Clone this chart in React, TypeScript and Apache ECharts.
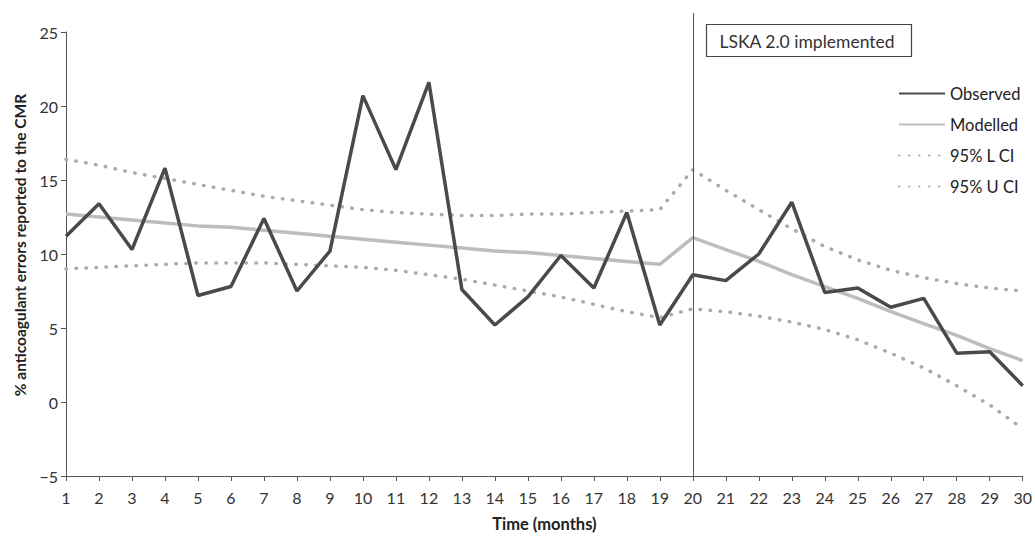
import React, { useEffect, useRef } from "react";
import * as echarts from "echarts";

const months = Array.from({ length: 30 }, (_, i) => i + 1);
const observed = [11.2, 13.4, 10.3, 15.8, 7.2, 7.8, 12.4, 7.5, 10.2, 20.7, 15.7, 21.6, 7.6, 5.2, 7.1, 9.9, 7.7, 12.8, 5.2, 8.6, 8.2, 10.0, 13.5, 7.4, 7.7, 6.4, 7.0, 3.3, 3.4, 1.1];
const modelled = [12.7, 12.5, 12.3, 12.1, 11.9, 11.8, 11.6, 11.4, 11.2, 11.0, 10.8, 10.6, 10.4, 10.2, 10.1, 9.9, 9.7, 9.5, 9.3, 11.1, 10.3, 9.5, 8.6, 7.8, 7.0, 6.1, 5.3, 4.5, 3.6, 2.8];
const lowerCI = [9.0, 9.1, 9.2, 9.3, 9.4, 9.4, 9.4, 9.3, 9.2, 9.1, 8.9, 8.6, 8.3, 7.9, 7.5, 7.1, 6.6, 6.1, 5.7, 6.3, 6.1, 5.8, 5.4, 4.9, 4.2, 3.3, 2.3, 1.1, -0.2, -1.8];
const upperCI = [16.4, 16.0, 15.5, 15.1, 14.7, 14.3, 13.9, 13.6, 13.3, 13.0, 12.8, 12.7, 12.6, 12.6, 12.7, 12.7, 12.8, 12.9, 13.0, 15.7, 14.3, 13.0, 11.7, 10.5, 9.6, 8.9, 8.4, 8.0, 7.7, 7.5];
const interventionMonth = 20;
const annotationText = "LSKA 2.0 implemented";
const yAxisTitle = "% anticoagulant errors reported to the CMR";
const xAxisTitle = "Time (months)";

const FONT = "Lato, 'Open Sans', sans-serif";

export default function App() {
  const ref = useRef<HTMLDivElement>(null);
  useEffect(() => {
    if (!ref.current) return;
    const chart = echarts.init(ref.current, undefined, { renderer: "svg" });
    const pair = (arr: number[]) => months.map((m, i) => [m, arr[i]]);
    const dotted = { color: "#ababab", width: 3.5, type: [0.5, 9.5], cap: "round" };
    chart.setOption({
      animation: false,
      backgroundColor: "#ffffff",
      textStyle: { fontFamily: FONT },
      grid: { left: 66, right: 10, top: 32, bottom: 57 },
      legend: {
        orient: "vertical",
        left: 893,
        top: 80,
        itemWidth: 46,
        itemHeight: 14,
        itemGap: 14,
        itemStyle: { opacity: 0 },
        textStyle: { fontSize: 16.5, color: "#222", fontFamily: FONT, padding: [0, 0, 0, 0] },
        data: ["Observed", "Modelled", "95% L CI", "95% U CI"],
      },
      xAxis: {
        type: "value",
        min: 1,
        max: 30,
        interval: 1,
        name: xAxisTitle,
        nameLocation: "middle",
        nameGap: 39,
        nameTextStyle: { fontSize: 16.5, fontWeight: "bold", color: "#222" },
        axisLine: { onZero: false, lineStyle: { color: "#555", width: 1 } },
        axisTick: { show: true, length: 5, lineStyle: { color: "#555" } },
        axisLabel: { fontSize: 16, color: "#333", margin: 13 },
        splitLine: { show: false },
      },
      yAxis: {
        type: "value",
        min: -5,
        max: 25,
        interval: 5,
        name: yAxisTitle,
        nameLocation: "middle",
        nameGap: 38,
        nameTextStyle: { fontSize: 15.5, fontWeight: "bold", color: "#222", padding: [0, 0, 0, 18] },
        axisLine: { show: true, lineStyle: { color: "#555", width: 1 } },
        axisTick: { show: true, length: 5, lineStyle: { color: "#555" } },
        axisLabel: { fontSize: 16, color: "#333", margin: 8, formatter: (v: number) => (v < 0 ? "\u2212" + Math.abs(v) : String(v)) },
        splitLine: { show: false },
      },
      series: [
        { name: "95% L CI", type: "line", data: pair(lowerCI), symbol: "none", lineStyle: dotted, itemStyle: { color: "#ababab" }, z: 1 },
        { name: "95% U CI", type: "line", data: pair(upperCI), symbol: "none", lineStyle: dotted, itemStyle: { color: "#ababab" }, z: 1 },
        { name: "Modelled", type: "line", data: pair(modelled), symbol: "none", lineStyle: { color: "#bdbdbd", width: 3.5 }, itemStyle: { color: "#bdbdbd" }, z: 2 },
        { name: "Observed", type: "line", data: pair(observed), symbol: "none", lineStyle: { color: "#4a4a4a", width: 3.5 }, itemStyle: { color: "#4a4a4a" }, z: 3 },
      ],
    });
    const base = chart.convertToPixel({ gridIndex: 0 }, [interventionMonth, -5]) as number[];
    const vx = Math.round(base[0]) + 0.5;
    chart.setOption({
      graphic: [
        { type: "line", shape: { x1: vx, y1: 13, x2: vx, y2: base[1] }, style: { stroke: "#555", lineWidth: 1 }, z: 10 },
        { type: "rect", shape: { x: vx + 13, y: 24.5, width: 205, height: 32 }, style: { fill: "#fff", stroke: "#444", lineWidth: 1.2 }, z: 10 },
        { type: "text", x: vx + 26, y: 41, style: { text: annotationText, fontSize: 17.5, fontFamily: FONT, fill: "#333", verticalAlign: "middle" }, z: 11 },
      ],
    });
    return () => chart.dispose();
  }, []);
  return <div ref={ref} style={{ width: 1035, height: 537, position: "absolute", left: 0, top: 0 }} />;
}
